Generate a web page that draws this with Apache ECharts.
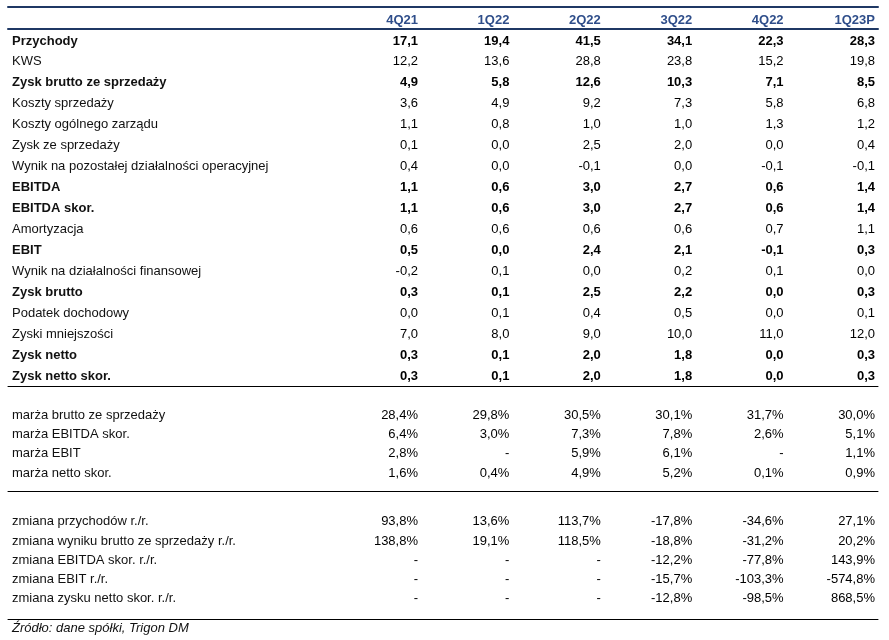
<!DOCTYPE html>
<html><head><meta charset="utf-8">
<script src="https://cdn.jsdelivr.net/npm/echarts@6/dist/echarts.min.js"></script>
<style>html,body{margin:0;padding:0;background:#fff}#c{width:889px;height:640px}</style>
</head><body><div id="c"></div>
<script>
// ---------- DATA ----------
const quarters = ['4Q21', '1Q22', '2Q22', '3Q22', '4Q22', '1Q23P'];

const plRows = ['Przychody', 'KWS', 'Zysk brutto ze sprzedaży', 'Koszty sprzedaży',
  'Koszty ogólnego zarządu', 'Zysk ze sprzedaży', 'Wynik na pozostałej działalności operacyjnej',
  'EBITDA', 'EBITDA skor.', 'Amortyzacja', 'EBIT', 'Wynik na działalności finansowej',
  'Zysk brutto', 'Podatek dochodowy', 'Zyski mniejszości', 'Zysk netto', 'Zysk netto skor.'];
const przychody        = [17.1, 19.4, 41.5, 34.1, 22.3, 28.3];
const kws              = [12.2, 13.6, 28.8, 23.8, 15.2, 19.8];
const zyskBruttoSprz   = [4.9, 5.8, 12.6, 10.3, 7.1, 8.5];
const kosztySprz       = [3.6, 4.9, 9.2, 7.3, 5.8, 6.8];
const kosztyZarz       = [1.1, 0.8, 1.0, 1.0, 1.3, 1.2];
const zyskZeSprz       = [0.1, 0.0, 2.5, 2.0, 0.0, 0.4];
const wynikPozOper     = [0.4, 0.0, -0.1, 0.0, -0.1, -0.1];
const ebitda           = [1.1, 0.6, 3.0, 2.7, 0.6, 1.4];
const ebitdaSkor       = [1.1, 0.6, 3.0, 2.7, 0.6, 1.4];
const amortyzacja      = [0.6, 0.6, 0.6, 0.6, 0.7, 1.1];
const ebit             = [0.5, 0.0, 2.4, 2.1, -0.1, 0.3];
const wynikFin         = [-0.2, 0.1, 0.0, 0.2, 0.1, 0.0];
const zyskBrutto       = [0.3, 0.1, 2.5, 2.2, 0.0, 0.3];
const podatek          = [0.0, 0.1, 0.4, 0.5, 0.0, 0.1];
const zyskiMniejszosci = [7.0, 8.0, 9.0, 10.0, 11.0, 12.0];
const zyskNetto        = [0.3, 0.1, 2.0, 1.8, 0.0, 0.3];
const zyskNettoSkor    = [0.3, 0.1, 2.0, 1.8, 0.0, 0.3];
const plValues = [przychody, kws, zyskBruttoSprz, kosztySprz, kosztyZarz, zyskZeSprz, wynikPozOper,
  ebitda, ebitdaSkor, amortyzacja, ebit, wynikFin, zyskBrutto, podatek, zyskiMniejszosci, zyskNetto, zyskNettoSkor];

const marginRows = ['marża brutto ze sprzedaży', 'marża EBITDA skor.', 'marża EBIT', 'marża netto skor.'];
const marzaBrutto      = [28.4, 29.8, 30.5, 30.1, 31.7, 30.0];
const marzaEbitdaSkor  = [6.4, 3.0, 7.3, 7.8, 2.6, 5.1];
const marzaEbit        = [2.8, null, 5.9, 6.1, null, 1.1];
const marzaNettoSkor   = [1.6, 0.4, 4.9, 5.2, 0.1, 0.9];
const marginValues = [marzaBrutto, marzaEbitdaSkor, marzaEbit, marzaNettoSkor];

const changeRows = ['zmiana przychodów r./r.', 'zmiana wyniku brutto ze sprzedaży r./r.',
  'zmiana EBITDA skor. r./r.', 'zmiana EBIT r./r.', 'zmiana zysku netto skor. r./r.'];
const zmPrzychodow     = [93.8, 13.6, 113.7, -17.8, -34.6, 27.1];
const zmWynikuBrutto   = [138.8, 19.1, 118.5, -18.8, -31.2, 20.2];
const zmEbitdaSkor     = [null, null, null, -12.2, -77.8, 143.9];
const zmEbit           = [null, null, null, -15.7, -103.3, -574.8];
const zmZyskuNettoSkor = [null, null, null, -12.8, -98.5, 868.5];
const changeValues = [zmPrzychodow, zmWynikuBrutto, zmEbitdaSkor, zmEbit, zmZyskuNettoSkor];

const sourceText = 'Źródło: dane spółki, Trigon DM';

// ---------- STYLE ----------
const FONT = '"Liberation Sans", Arial, sans-serif';
const TEXT = '#111111';
const NUM = '#000000';
const NAVY = '#1f3864';
const HEAD = '#2f4e8a';
const BOLD = new Set(['Przychody', 'Zysk brutto ze sprzedaży', 'EBITDA', 'EBITDA skor.', 'EBIT',
  'Zysk brutto', 'Zysk netto', 'Zysk netto skor.']);

function fmt(v, pct) {
  if (v === null || v === undefined) return '-';
  return v.toFixed(1).replace('.', ',') + (pct ? '%' : '');
}
function buildData(rows, values, pct) {
  const out = [];
  rows.forEach((r, i) => {
    values[i].forEach((v, j) => {
      out.push({
        value: [j, i],
        txt: fmt(v, pct),
        label: { fontWeight: BOLD.has(r) ? 'bold' : 'normal', color: NUM, opacity: 1 }
      });
    });
  });
  return out;
}
function rowAxis(gridIndex, rows) {
  return {
    type: 'category', gridIndex, data: rows, inverse: true, boundaryGap: true,
    axisLine: { show: false }, axisTick: { show: false }, splitLine: { show: false },
    axisLabel: {
      interval: 0, align: 'left', margin: 406, color: TEXT, fontSize: 13, fontFamily: FONT,
      formatter: v => BOLD.has(v) ? '{b|' + v + '}' : v,
      rich: { b: { fontWeight: 'bold', fontSize: 13, fontFamily: FONT, color: TEXT } }
    }
  };
}
function colAxis(gridIndex, showLabels) {
  return {
    type: 'category', gridIndex, data: quarters, boundaryGap: false, position: 'top',
    axisLine: { show: false }, axisTick: { show: false }, splitLine: { show: false },
    axisLabel: {
      show: showLabels, interval: 0, align: 'right', margin: 4, showMinLabel: true, showMaxLabel: true,
      color: HEAD, fontWeight: 'bold', fontSize: 13, fontFamily: FONT
    }
  };
}
function ruleAxis(gridIndex, position, color, width) {
  return {
    type: 'value', gridIndex, position, min: 0, max: 1,
    axisLine: { show: true, onZero: false, lineStyle: { color, width } },
    axisTick: { show: false }, axisLabel: { show: false }, splitLine: { show: false }
  };
}
function hiddenY(gridIndex) {
  return { type: 'value', gridIndex, min: 0, max: 1, show: false };
}
function tableSeries(xi, yi, data) {
  return {
    type: 'scatter', xAxisIndex: xi, yAxisIndex: yi, data, symbolSize: 0.01,
    itemStyle: { color: '#ffffff', opacity: 1 }, silent: true,
    label: {
      show: true, position: 'left', distance: 0, color: NUM, fontSize: 13, fontFamily: FONT,
      formatter: p => p.data.txt
    }
  };
}

const chart = echarts.init(document.getElementById('c'), null, { renderer: 'canvas' });
chart.setOption({
  animation: false,
  backgroundColor: '#ffffff',
  title: {
    text: sourceText, left: 7, top: 617,
    textStyle: { fontStyle: 'italic', fontWeight: 'normal', fontSize: 13, fontFamily: FONT, color: TEXT }
  },
  grid: [
    { left: 8, right: 11, top: 7, height: 22 },          // 0 header frame
    { left: 418, right: 14, top: 30.5, height: 356 },    // 1 P&L
    { left: 418, right: 14, top: 405.3, height: 77.6 },  // 2 margins
    { left: 418, right: 14, top: 512.2, height: 96.3 },  // 3 changes
    { left: 8, right: 11, top: 386, height: 105 },       // 4 frame
    { left: 8, right: 11, top: 491, height: 128 }        // 5 frame
  ],
  xAxis: [
    colAxis(1, true),
    colAxis(2, false),
    colAxis(3, false),
    ruleAxis(0, 'top', NAVY, 2),
    ruleAxis(0, 'bottom', NAVY, 2),
    ruleAxis(4, 'top', '#000', 1),
    ruleAxis(4, 'bottom', '#000', 1),
    ruleAxis(5, 'bottom', '#000', 1)
  ],
  yAxis: [
    rowAxis(1, plRows),
    rowAxis(2, marginRows),
    rowAxis(3, changeRows),
    hiddenY(0), hiddenY(4), hiddenY(5)
  ],
  series: [
    tableSeries(0, 0, buildData(plRows, plValues, false)),
    tableSeries(1, 1, buildData(marginRows, marginValues, true)),
    tableSeries(2, 2, buildData(changeRows, changeValues, true))
  ]
});
</script>
</body></html>
